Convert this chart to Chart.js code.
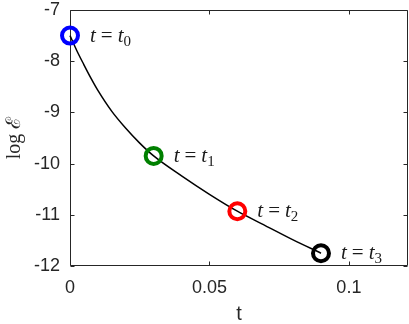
<!DOCTYPE html>
<html>
<head>
<meta charset="utf-8">
<script src="https://cdn.jsdelivr.net/npm/chart.js@4.4.1/dist/chart.umd.min.js"></script>
<style>
  html, body { margin: 0; padding: 0; background: #fff; }
  #wrap { width: 409px; height: 324px; }
</style>
</head>
<body>
<div id="wrap"><canvas id="c" width="409" height="324"></canvas></div>
<script>
// curve
const curveT   = [0, 0.0025, 0.005, 0.0075, 0.01, 0.015, 0.02, 0.025, 0.03, 0.04, 0.05, 0.06, 0.07, 0.08, 0.09];
const curveLog = [-7.5, -7.80, -8.07, -8.33, -8.57, -8.98, -9.31, -9.60, -9.85, -10.24, -10.60, -10.93, -11.21, -11.49, -11.75];

// marked instants
const markT      = [0, 0.03, 0.06, 0.09];
const markLog    = [-7.5, -9.85, -10.93, -11.75];
const markColors = ['#0000ff', '#008000', '#ff0000', '#000000'];
const markSubs   = ['0', '1', '2', '3'];

const xTicks = [0, 0.05, 0.1];
const xTickLabels = ['0', '0.05', '0.1'];
const yTicks = [-12, -11, -10, -9, -8, -7];

const axisColor = '#262626';

// matlab-like box with inward ticks
function drawBox(chart, col) {
  const {ctx, chartArea: a, scales: {x, y}} = chart;
  const L = Math.round(a.left) + 0.5, R = Math.round(a.right) - 0.5;
  const T = Math.round(a.top) + 0.5, B = Math.round(a.bottom) - 0.5;
  ctx.save();
  ctx.strokeStyle = col;
  ctx.lineWidth = 1;
  ctx.beginPath();
  ctx.moveTo(L, T); ctx.lineTo(R, T); ctx.lineTo(R, B); ctx.lineTo(L, B); ctx.closePath();
  const tl = 4;
  xTicks.forEach(v => {
    const px = Math.round(x.getPixelForValue(v)) + 0.5;
    ctx.moveTo(px, B); ctx.lineTo(px, B - tl);
    ctx.moveTo(px, T); ctx.lineTo(px, T + tl);
  });
  yTicks.forEach(v => {
    const py = Math.round(y.getPixelForValue(v)) + 0.5;
    ctx.moveTo(L, py); ctx.lineTo(L + tl, py);
    ctx.moveTo(R, py); ctx.lineTo(R - tl, py);
  });
  ctx.stroke();
  ctx.restore();
}

const matlabBox = {
  id: 'matlabBox',
  beforeDatasetsDraw(chart) { drawBox(chart, axisColor); },
  afterDatasetsDraw(chart) {
    const {ctx, scales: {x, y}} = chart;
    ctx.save();
    ctx.fillStyle = '#1a1a1a';
    ctx.textBaseline = 'alphabetic';
    markT.forEach((t, i) => {
      let px = x.getPixelForValue(t) + 20;
      const py = y.getPixelForValue(markLog[i]) + 6;
      ctx.font = 'italic 21px "Liberation Serif"';
      ctx.fillText('t', px, py);
      px += ctx.measureText('t').width + 5;
      ctx.font = '21px "Liberation Serif"';
      ctx.fillText('=', px, py);
      px += ctx.measureText('=').width + 5;
      ctx.font = 'italic 21px "Liberation Serif"';
      ctx.fillText('t', px, py);
      px += ctx.measureText('t').width;
      ctx.font = '15px "Liberation Serif"';
      ctx.fillText(markSubs[i], px, py + 4);
    });
    ctx.restore();
  }
};

const markSets = markT.map((t, i) => ({
  type: 'scatter',
  data: [{x: t, y: markLog[i]}],
  borderColor: markColors[i],
  backgroundColor: 'rgba(0,0,0,0)',
  pointRadius: 8,
  pointBorderWidth: 4,
  pointHoverRadius: 8,
  clip: false
}));

new Chart(document.getElementById('c'), {
  type: 'line',
  data: {
    datasets: [{
      data: curveT.map((t, i) => ({x: t, y: curveLog[i]})),
      borderColor: '#000',
      borderWidth: 1.5,
      pointRadius: 0,
      cubicInterpolationMode: 'monotone',
      clip: false,
      order: 5
    }].concat(markSets)
  },
  options: {
    responsive: false,
    animation: false,
    layout: { autoPadding: false, padding: { top: 10, right: 1, left: 0, bottom: 0 } },
    plugins: { legend: { display: false }, tooltip: { enabled: false } },
    scales: {
      x: {
        type: 'linear',
        min: 0, max: 0.1212,
        afterFit(s) { s.height = 58; s.paddingLeft = 0; s.paddingRight = 0; },
        afterBuildTicks(s) { s.ticks = xTicks.map(v => ({value: v})); },
        grid: { display: false, drawTicks: false },
        border: { display: false },
        ticks: {
          color: axisColor, padding: 11, maxRotation: 0,
          font: { family: '"Liberation Sans"', size: 18 },
          callback: (v) => { const k = xTicks.indexOf(v); return k < 0 ? '' : xTickLabels[k]; }
        },
        title: {
          display: true, text: 't', color: axisColor,
          font: { family: '"Liberation Sans"', size: 20, lineHeight: 1 },
          padding: 0
        }
      },
      y: {
        type: 'linear',
        min: -12, max: -7,
        afterFit(s) { s.width = 70; s.paddingTop = 0; s.paddingBottom = 0; },
        afterBuildTicks(s) { s.ticks = yTicks.map(v => ({value: v})); },
        grid: { display: false, drawTicks: false },
        border: { display: false },
        ticks: {
          color: axisColor, padding: 10,
          font: { family: '"Liberation Sans"', size: 18 },
          callback: (v) => String(v)
        },
        title: {
          display: true, text: 'log \u2130', color: axisColor,
          font: { family: '"Liberation Serif"', size: 20, lineHeight: 1.2 },
          padding: { top: 3, bottom: 0 }
        }
      }
    }
  },
  plugins: [matlabBox]
});
</script>
</body>
</html>
